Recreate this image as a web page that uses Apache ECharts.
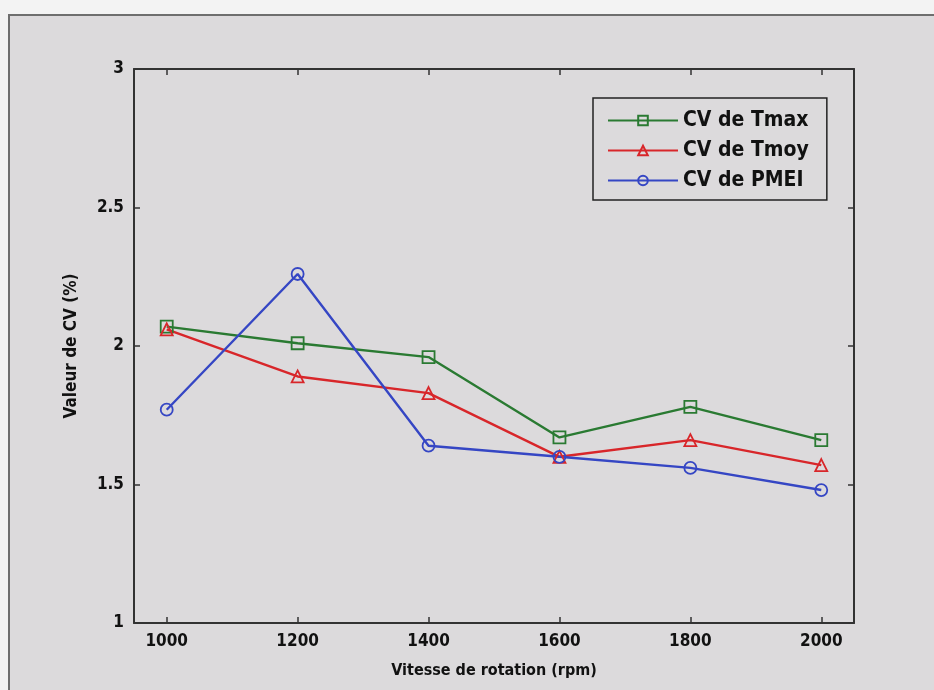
<!DOCTYPE html>
<html>
<head>
<meta charset="utf-8">
<script src="https://cdn.jsdelivr.net/npm/echarts@6/dist/echarts.min.js"></script>
<style>
    html, body { margin: 0; padding: 0; background: #f3f3f3; }
    #chart { width: 934px; height: 690px; }
</style>
</head>
<body>
<div id="chart"></div>
<script>
// vitesses (rpm)
var speeds = [1000, 1200, 1400, 1600, 1800, 2000];
// CV (%)
var cvTmax = [2.07, 2.01, 1.96, 1.67, 1.78, 1.66];
var cvTmoy = [2.06, 1.89, 1.83, 1.60, 1.66, 1.57];
var cvPmei = [1.77, 2.26, 1.64, 1.60, 1.56, 1.48];
var seriesNames = ['CV de Tmax', 'CV de Tmoy', 'CV de PMEI'];
var xTicks = [1000, 1200, 1400, 1600, 1800, 2000];

var font = '"DejaVu Sans Condensed", "Liberation Sans Narrow", "Liberation Sans", Arial, sans-serif';
var bg = '#dcdadc';

function pairs(vals) {
    return speeds.map(function (s, i) { return [s, vals[i]]; });
}

function makeSeries(name, vals, color, symbol) {
    return {
        name: name,
        type: 'line',
        data: pairs(vals),
        symbol: symbol,
        symbolSize: 12,
        showAllSymbol: true,
        lineStyle: { color: color, width: 2.4 },
        itemStyle: { color: 'rgba(0,0,0,0)', borderColor: color, borderWidth: 1.8 },
        emphasis: { disabled: true }
    };
}

function ticks(custom) {
    var t = { show: true, inside: true, length: 6, lineStyle: { color: '#333', width: 1.5 } };
    if (custom) t.customValues = custom;
    return t;
}

var chart = echarts.init(document.getElementById('chart'));
var lineAxis = { show: true, lineStyle: { color: '#333', width: 2 } };
var labelStyle = { fontFamily: font, fontWeight: 'bold', fontSize: 17, color: '#111', margin: 10,
    formatter: function (v) { return String(v); } };
var nameStyle = { fontFamily: font, fontWeight: 'bold', fontSize: 16, color: '#111' };

var option = {
    backgroundColor: '#f3f3f3',
    animation: false,
    graphic: [{
        type: 'rect',
        z: -10,
        shape: { x: 9, y: 15, width: 940, height: 690 },
        style: { fill: bg, stroke: '#6e6e6e', lineWidth: 2 }
    }],
    grid: { left: 134, top: 69, right: 80, bottom: 67 },
    legend: {
        orient: 'vertical',
        left: 593,
        top: 98,
        data: seriesNames,
        itemWidth: 70,
        itemHeight: 12,
        itemGap: 9,
        padding: [12, 18, 9, 14],
        borderColor: '#222',
        borderWidth: 1.5,
        backgroundColor: bg,
        textStyle: { fontFamily: font, fontWeight: 'bold', fontSize: 21, color: '#111' }
    },
    xAxis: [{
        type: 'value',
        min: 950,
        max: 2050,
        name: 'Vitesse de rotation (rpm)',
        nameLocation: 'middle',
        nameGap: 40,
        nameTextStyle: nameStyle,
        axisLine: lineAxis,
        axisTick: ticks(xTicks),
        splitLine: { show: false },
        axisLabel: Object.assign({ customValues: xTicks }, labelStyle)
    }, {
        type: 'value',
        position: 'top',
        min: 950,
        max: 2050,
        axisLine: lineAxis,
        axisTick: ticks(xTicks),
        axisLabel: { show: false },
        splitLine: { show: false }
    }],
    yAxis: [{
        type: 'value',
        min: 1,
        max: 3,
        interval: 0.5,
        name: 'Valeur de CV (%)',
        nameLocation: 'middle',
        nameGap: 54,
        nameTextStyle: { fontFamily: font, fontWeight: 'bold', fontSize: 17, color: '#111' },
        axisLine: lineAxis,
        axisTick: ticks(),
        splitLine: { show: false },
        axisLabel: labelStyle
    }, {
        type: 'value',
        position: 'right',
        min: 1,
        max: 3,
        interval: 0.5,
        axisLine: lineAxis,
        axisTick: ticks(),
        axisLabel: { show: false },
        splitLine: { show: false }
    }],
    series: [
        makeSeries(seriesNames[0], cvTmax, '#2a7a32', 'rect'),
        makeSeries(seriesNames[1], cvTmoy, '#d8262a', 'triangle'),
        makeSeries(seriesNames[2], cvPmei, '#3546c4', 'circle')
    ]
};
chart.setOption(option);
</script>
</body>
</html>
